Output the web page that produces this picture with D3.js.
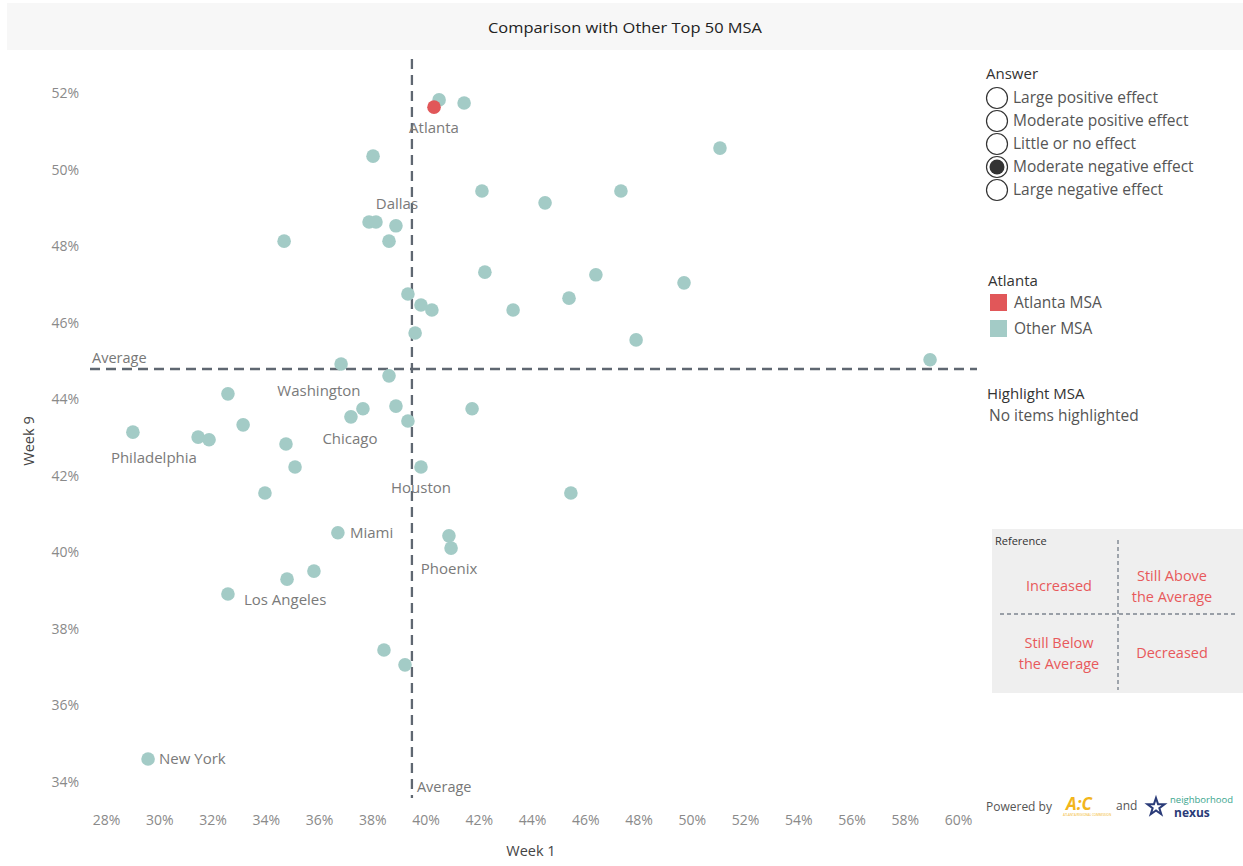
<!DOCTYPE html>
<html>
<head>
<meta charset="utf-8">
<script src="https://cdn.jsdelivr.net/npm/d3@7"></script>
<style>
  html, body { margin: 0; padding: 0; background: #fff; }
  svg { display: block; font-family: "Open Sans", "Noto Sans", sans-serif; }
</style>
</head>
<body>
<svg id="chart" width="1243" height="866"></svg>
<script>
// Week 1 vs Week 9 share for the top 50 MSAs
const msaNames = [
  "Atlanta", "", "", "", "", "", "", "", "", "", "Dallas", "", "", "", "", "", "", "", "", "", "",
  "", "", "", "", "", "", "Washington", "Chicago", "", "", "", "", "Philadelphia", "", "", "",
  "", "Houston", "", "", "Miami", "", "Phoenix", "", "", "Los Angeles", "", "", "New York"
];
const week1 = [
  40.32, 40.51, 41.45, 38.03, 51.06, 42.12, 44.49, 47.34, 37.88, 38.14, 38.89, 34.69, 38.63,
  42.23, 46.40, 49.71, 39.34, 39.83, 40.24, 43.29, 45.39, 39.61, 47.91, 58.95, 36.83, 38.63,
  32.58, 37.65, 37.20, 38.89, 41.75, 39.34, 33.15, 29.01, 31.46, 31.87, 34.76, 35.10, 39.83,
  33.97, 45.46, 36.71, 40.88, 40.96, 35.81, 34.80, 32.58, 38.44, 39.23, 29.58
];
const week9 = [
  51.63, 51.82, 51.74, 50.35, 50.56, 49.44, 49.13, 49.44, 48.63, 48.63, 48.53, 48.13, 48.13,
  47.32, 47.25, 47.04, 46.75, 46.46, 46.33, 46.33, 46.64, 45.73, 45.55, 45.03, 44.92, 44.61,
  44.14, 43.75, 43.54, 43.82, 43.75, 43.43, 43.33, 43.14, 43.01, 42.94, 42.83, 42.23, 42.23,
  41.55, 41.55, 40.51, 40.43, 40.11, 39.51, 39.30, 38.91, 37.45, 37.06, 34.60
];
const groups = ["Atlanta MSA"].concat(d3.range(49).map(() => "Other MSA"));

const xTicks = [28, 30, 32, 34, 36, 38, 40, 42, 44, 46, 48, 50, 52, 54, 56, 58, 60];
const yTicks = [34, 36, 38, 40, 42, 44, 46, 48, 50, 52];
const averageWeek1 = 39.49;
const averageWeek9 = 44.79;

const answerOptions = ["Large positive effect", "Moderate positive effect", "Little or no effect",
  "Moderate negative effect", "Large negative effect"];
const selectedAnswer = "Moderate negative effect";
const legendGroups = ["Atlanta MSA", "Other MSA"];

// where each city name sits relative to its dot
const labelPlacement = {
  "Atlanta": { dx: 0, dy: 26, anchor: "middle" },
  "Dallas": { dx: 1, dy: -17, anchor: "middle" },
  "Washington": { dx: -44, dy: -13, anchor: "middle" },
  "Chicago": { dx: -1, dy: 27, anchor: "middle" },
  "Philadelphia": { dx: 21, dy: 31, anchor: "middle" },
  "Houston": { dx: 0, dy: 26, anchor: "middle" },
  "Miami": { dx: 12, dy: 5, anchor: "start" },
  "Phoenix": { dx: -2, dy: 26, anchor: "middle" },
  "Los Angeles": { dx: 16, dy: 11, anchor: "start" },
  "New York": { dx: 11, dy: 5, anchor: "start" }
};

const points = week1.map((v, i) => ({ name: msaNames[i], w1: v, w9: week9[i], group: groups[i] }));

const svg = d3.select("#chart");
const color = d3.scaleOrdinal().domain(legendGroups).range(["#e15759", "#a3cbc6"]);

const x = d3.scaleLinear().domain([28, 60]).range([106, 958]);
const y = d3.scaleLinear().domain([34, 52]).range([782, 93]);

// title band
svg.append("rect").attr("x", 7).attr("y", 3).attr("width", 1236).attr("height", 47).attr("fill", "#f7f7f7");
svg.append("text").attr("x", 625).attr("y", 33).attr("text-anchor", "middle")
  .attr("font-size", 15).attr("fill", "#222").attr("textLength", 274).attr("lengthAdjust", "spacingAndGlyphs")
  .text("Comparison with Other Top 50 MSA");

// axes (labels only)
const xAxis = svg.append("g").attr("transform", "translate(0,820)")
  .call(d3.axisBottom(x).tickValues(xTicks).tickFormat(d => d + "%").tickSize(0).tickPadding(0));
const yAxis = svg.append("g").attr("transform", "translate(79,0)")
  .call(d3.axisLeft(y).tickValues(yTicks).tickFormat(d => d + "%").tickSize(0).tickPadding(0));
[xAxis, yAxis].forEach(g => {
  g.select(".domain").remove();
  g.selectAll("text").attr("font-size", 14).attr("fill", "#8a8a8a").attr("font-family", "'Open Sans'");
});
xAxis.selectAll("text").attr("dy", "0.35em");

svg.append("text").attr("x", 531).attr("y", 856).attr("text-anchor", "middle")
  .attr("font-size", 14.5).attr("fill", "#444").text("Week 1");
svg.append("text").attr("transform", "translate(34,441) rotate(-90)").attr("text-anchor", "middle")
  .attr("font-size", 14.5).attr("fill", "#444").text("Week 9");

// average reference lines
svg.append("line").attr("x1", 90).attr("x2", 977).attr("y1", y(averageWeek9)).attr("y2", y(averageWeek9))
  .attr("stroke", "#5f6771").attr("stroke-width", 2.3).attr("stroke-dasharray", "10,6");
svg.append("line").attr("x1", x(averageWeek1)).attr("x2", x(averageWeek1)).attr("y1", 59).attr("y2", 798)
  .attr("stroke", "#5f6771").attr("stroke-width", 2.3).attr("stroke-dasharray", "10,6");
svg.append("text").attr("x", 92).attr("y", y(averageWeek9) - 6).attr("font-size", 14.5).attr("fill", "#777").text("Average");
svg.append("text").attr("x", x(averageWeek1) + 5).attr("y", 792).attr("font-size", 14.5).attr("fill", "#777").text("Average");

// dots: other MSAs first, Atlanta on top
const ordered = points.slice(1).concat(points.slice(0, 1));
svg.append("g").selectAll("circle").data(ordered).join("circle")
  .attr("cx", d => x(d.w1)).attr("cy", d => y(d.w9)).attr("r", 6.8)
  .attr("fill", d => color(d.group));

// city labels
svg.append("g").selectAll("text").data(points.filter(d => d.name)).join("text")
  .attr("x", d => x(d.w1) + labelPlacement[d.name].dx)
  .attr("y", d => y(d.w9) + labelPlacement[d.name].dy)
  .attr("text-anchor", d => labelPlacement[d.name].anchor)
  .attr("font-size", 15).attr("fill", "#7a7a7a").text(d => d.name);

// Answer legend
const legend = svg.append("g");
legend.append("text").attr("x", 986).attr("y", 79).attr("font-size", 15).attr("fill", "#333").text("Answer");
const opt = legend.selectAll("g.opt").data(answerOptions).join("g").attr("class", "opt")
  .attr("transform", (d, i) => `translate(997,${98 + i * 23})`);
opt.append("circle").attr("r", 10.5).attr("fill", "#fff").attr("stroke", "#333").attr("stroke-width", 1.2);
opt.filter(d => d === selectedAnswer).append("circle").attr("r", 7.5).attr("fill", "#333");
opt.append("text").attr("x", 16).attr("y", 5).attr("font-size", 15.5).attr("fill", "#555").text(d => d);

// colour legend
legend.append("text").attr("x", 988).attr("y", 286).attr("font-size", 15).attr("fill", "#333").text("Atlanta");
const sw = legend.selectAll("g.sw").data(legendGroups).join("g").attr("class", "sw")
  .attr("transform", (d, i) => `translate(990,${294 + i * 26})`);
sw.append("rect").attr("width", 17).attr("height", 17).attr("fill", d => color(d));
sw.append("text").attr("x", 24).attr("y", 14).attr("font-size", 15.5).attr("fill", "#555").text(d => d);

legend.append("text").attr("x", 987).attr("y", 399).attr("font-size", 15).attr("fill", "#333").text("Highlight MSA");
legend.append("text").attr("x", 989).attr("y", 421).attr("font-size", 15.5).attr("fill", "#555").text("No items highlighted");

// quadrant reference card
const ref = svg.append("g");
ref.append("rect").attr("x", 992).attr("y", 529).attr("width", 251).attr("height", 164).attr("fill", "#efefef");
ref.append("text").attr("x", 995).attr("y", 545).attr("font-size", 11).attr("fill", "#333").text("Reference");
ref.append("line").attr("x1", 1118).attr("x2", 1118).attr("y1", 540).attr("y2", 690)
  .attr("stroke", "#7d8590").attr("stroke-width", 1.4).attr("stroke-dasharray", "4,3");
ref.append("line").attr("x1", 1000).attr("x2", 1236).attr("y1", 614).attr("y2", 614)
  .attr("stroke", "#7d8590").attr("stroke-width", 1.4).attr("stroke-dasharray", "4,3");
const quad = [
  { lines: ["Increased"], cx: 1059, cy: 586 },
  { lines: ["Still Above", "the Average"], cx: 1172, cy: 586 },
  { lines: ["Still Below", "the Average"], cx: 1059, cy: 653 },
  { lines: ["Decreased"], cx: 1172, cy: 653 }
];
quad.forEach(q => {
  const t = ref.append("text").attr("text-anchor", "middle").attr("font-size", 14.5).attr("fill", "#e8595b");
  q.lines.forEach((l, i) => {
    t.append("tspan").attr("x", q.cx)
      .attr("y", q.cy + 5 + (i - (q.lines.length - 1) / 2) * 21).text(l);
  });
});

// footer credits
const foot = svg.append("g");
foot.append("text").attr("x", 986).attr("y", 811).attr("font-size", 12).attr("fill", "#555").text("Powered by");
foot.append("text").attr("x", 1066).attr("y", 810).attr("font-size", 17).attr("font-weight", "bold")
  .attr("fill", "#f2b51c").attr("font-style", "italic").text("A:C");
foot.append("text").attr("x", 1063).attr("y", 816).attr("font-size", 3).attr("fill", "#f2b51c").text("ATLANTA REGIONAL COMMISSION");
foot.append("text").attr("x", 1116).attr("y", 810).attr("font-size", 12).attr("fill", "#555").text("and");
const star = d3.range(10).map(i => {
  const a = -Math.PI / 2 + i * Math.PI / 5, r = i % 2 ? 3.5 : 9;
  return [1156 + r * Math.cos(a), 807 + r * Math.sin(a)];
});
foot.append("path").attr("d", d3.line()(star) + "Z").attr("fill", "none").attr("stroke", "#2a3b78").attr("stroke-width", 2);
foot.append("text").attr("x", 1170).attr("y", 803).attr("font-size", 9.5).attr("fill", "#3aa58e").text("neighborhood");
foot.append("text").attr("x", 1174).attr("y", 817).attr("font-size", 12).attr("font-weight", "bold").attr("fill", "#2a3b78").text("nexus");
</script>
</body>
</html>
